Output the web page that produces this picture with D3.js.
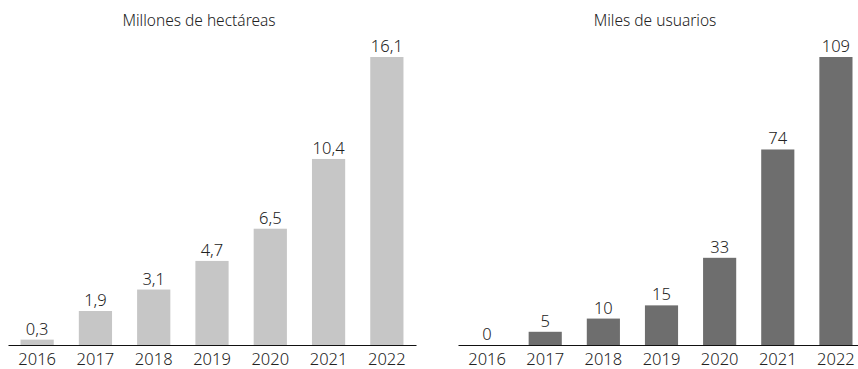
<!DOCTYPE html>
<html><head><meta charset="utf-8">
<script src="https://cdn.jsdelivr.net/npm/d3@7"></script>
<style>body{margin:0;background:#fff}svg{display:block}text{font-family:"Noto Sans",sans-serif;font-weight:300;fill:#222}</style>
</head><body><svg id="c" width="858" height="369"></svg>
<script>
const years = ["2016","2017","2018","2019","2020","2021","2022"];
const hectareas = [0.3,1.9,3.1,4.7,6.5,10.4,16.1];
const usuarios = [0,5,10,15,33,74,109];
const titles = ["Millones de hectáreas","Miles de usuarios"];

const svg = d3.select("#c");
const baseY = 345, topY = 57;
function panel(vals, x0, x1, color, title, titleX, fmt){
  const x = d3.scaleBand().domain(years).range([x0,x1]).paddingInner(0.43).paddingOuter(0.215);
  const y = d3.scaleLinear().domain([0, d3.max(vals)]).range([baseY, topY]);
  const g = svg.append("g");
  g.selectAll("rect").data(vals).join("rect")
    .attr("x",(d,i)=>x(years[i])).attr("width",x.bandwidth())
    .attr("y",d=>y(d)).attr("height",d=>baseY-y(d)).attr("fill",color);
  g.selectAll("text.v").data(vals).join("text").attr("class","v")
    .attr("x",(d,i)=>x(years[i])+x.bandwidth()/2).attr("y",d=>y(d)-5)
    .attr("text-anchor","middle").style("font-size","16.5px").text(fmt);
  const ax = g.append("g").attr("transform",`translate(0,${baseY})`)
    .call(d3.axisBottom(x).tickSize(0).tickPadding(8));
  ax.select(".domain").attr("stroke","#111").attr("stroke-width",1.2);
  ax.selectAll("text").style("font-size","16.5px").attr("fill","#222").style("font-family","'Noto Sans',sans-serif").style("font-weight","300");
  g.append("text").attr("x",titleX).attr("y",26).attr("text-anchor","middle").style("font-size","15.5px").text(title);
}
const fmtComma = d => d3.format(".1f")(d).replace(".", ",");
panel(hectareas, 8, 416, "#c6c6c6", titles[0], 199, fmtComma);
panel(usuarios, 458, 865, "#6e6e6e", titles[1], 655, d=>d3.format("d")(d));
</script></body></html>
